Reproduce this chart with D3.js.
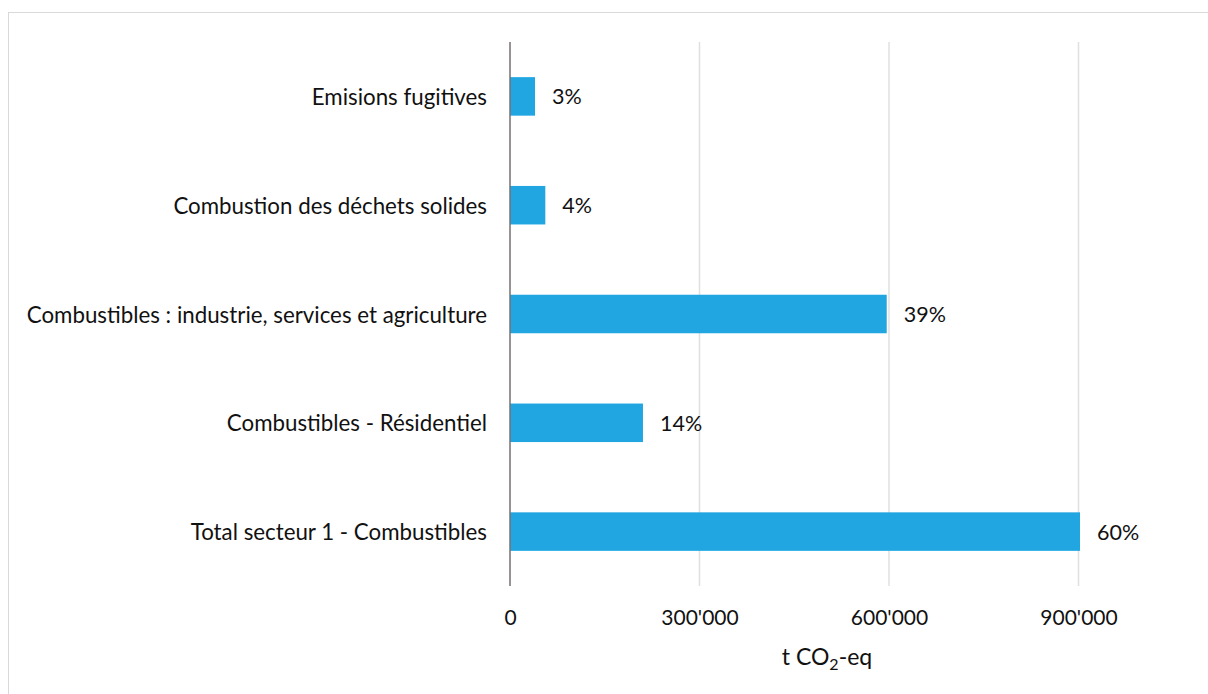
<!DOCTYPE html>
<html>
<head>
<meta charset="utf-8">
<script src="https://cdn.jsdelivr.net/npm/d3@7"></script>
<style>
  html, body { margin: 0; padding: 0; background: #fff; }
  svg { display: block; }
  text { font-family: "Lato", "Open Sans", sans-serif; fill: #111; }
</style>
</head>
<body>
<svg id="chart" width="1208" height="694"></svg>
<script>
const categories = [
  "Emisions fugitives",
  "Combustion des déchets solides",
  "Combustibles : industrie, services et agriculture",
  "Combustibles - Résidentiel",
  "Total secteur 1 - Combustibles"
];
const values = [39600, 55900, 596400, 210500, 902400];
const percentLabels = ["3%", "4%", "39%", "14%", "60%"];
const tickValues = [0, 300000, 600000, 900000];
const tickLabels = ["0", "300'000", "600'000", "900'000"];
const axisTitle = "t CO";

const svg = d3.select("#chart");

svg.append("rect")
  .attr("x", 8.5).attr("y", 12.5)
  .attr("width", 1220).attr("height", 700)
  .attr("fill", "#fff").attr("stroke", "#d9d9d9").attr("stroke-width", 1);

const plot = { left: 510, right: 1078.5, top: 42, bottom: 586 };

const x = d3.scaleLinear().domain([0, 900000]).range([plot.left, plot.right]);
const y = d3.scaleBand().domain(categories).range([plot.top, plot.bottom])
  .paddingInner(0.646).paddingOuter(0.323);

// gridlines
svg.append("g").selectAll("line")
  .data(tickValues.filter(d => d > 0))
  .join("line")
  .attr("x1", d => x(d)).attr("x2", d => x(d))
  .attr("y1", plot.top).attr("y2", plot.bottom)
  .attr("stroke", "#e0e0e0").attr("stroke-width", 1.5);

// bars
svg.append("g").selectAll("rect")
  .data(values)
  .join("rect")
  .attr("x", x(0))
  .attr("y", (d, i) => y(categories[i]))
  .attr("width", d => x(d) - x(0))
  .attr("height", y.bandwidth())
  .attr("fill", "#21a6e2");

// value labels
svg.append("g").selectAll("text")
  .data(values)
  .join("text")
  .attr("x", d => x(d) + 17)
  .attr("y", (d, i) => y(categories[i]) + y.bandwidth() / 2)
  .attr("dominant-baseline", "central")
  .attr("font-size", 21.5)
  .text((d, i) => percentLabels[i]);

// category axis line
svg.append("line")
  .attr("x1", x(0)).attr("x2", x(0))
  .attr("y1", plot.top).attr("y2", plot.bottom)
  .attr("stroke", "#767171").attr("stroke-width", 1.5);

// category labels
svg.append("g").selectAll("text")
  .data(categories)
  .join("text")
  .attr("x", x(0) - 23)
  .attr("y", d => y(d) + y.bandwidth() / 2)
  .attr("dominant-baseline", "central")
  .attr("text-anchor", "end")
  .attr("font-size", 22.3)
  .text(d => d);

// x tick labels
const xAxis = d3.axisBottom(x).tickValues(tickValues)
  .tickFormat((d, i) => tickLabels[i]).tickSize(0).tickPadding(0);
const gx = svg.append("g").attr("transform", `translate(0,${plot.bottom})`).call(xAxis);
gx.select(".domain").remove();
gx.selectAll("text")
  .attr("font-size", 21)
  .attr("font-family", "Lato, sans-serif")
  .attr("fill", "#111")
  .attr("dy", null)
  .attr("y", 39);

// axis title
const t = svg.append("text")
  .attr("x", 827)
  .attr("y", 665)
  .attr("text-anchor", "middle")
  .attr("font-size", 23);
t.append("tspan").text(axisTitle);
t.append("tspan").attr("font-size", 16).attr("dy", 5).text("2");
t.append("tspan").attr("dy", -5).text("-eq");
</script>
</body>
</html>
